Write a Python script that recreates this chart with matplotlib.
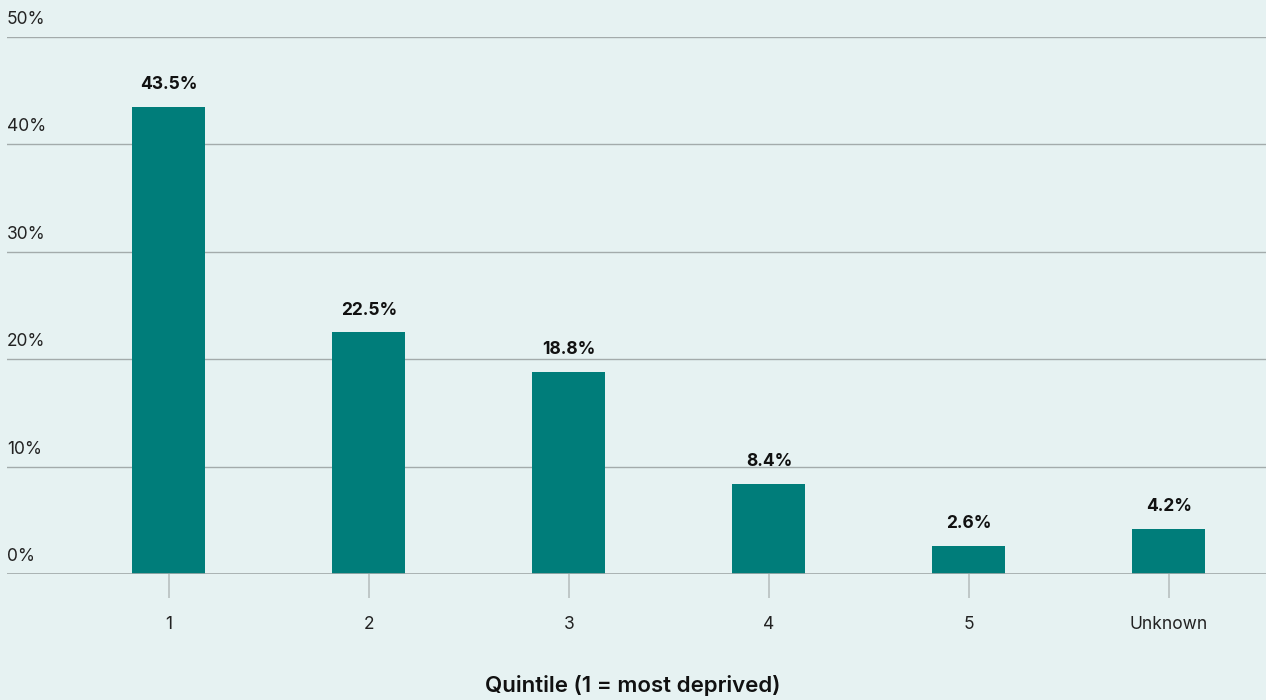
import matplotlib.pyplot as plt
from matplotlib.transforms import blended_transform_factory, offset_copy

categories = ["1", "2", "3", "4", "5", "Unknown"]
shares = [43.5, 22.5, 18.8, 8.4, 2.6, 4.2]
y_ticks = [0, 10, 20, 30, 40, 50]
y_tick_labels = ["0%", "10%", "20%", "30%", "40%", "50%"]
x_title = "Quintile (1 = most deprived)"

bg = "#e6f2f2"
bar_color = "#007d7a"
grid_color = "#a3abab"
text_color = "#222222"

plt.rcParams["font.family"] = ["Inter", "DejaVu Sans"]

fig = plt.figure(figsize=(12.66, 7.0), dpi=100, facecolor=bg)
ax = fig.add_axes([0.0055, 0.18, 0.9945, 0.767])
ax.set_facecolor(bg)

x = list(range(len(categories)))
ax.bar(x, shares, width=0.365, color=bar_color, zorder=3)

ax.set_xlim(-0.81, 5.485)
ax.set_ylim(0, 50)

# horizontal gridlines
ax.set_yticks(y_ticks)
ax.yaxis.grid(True, color=grid_color, linewidth=1.0, zorder=0)
ax.tick_params(axis="y", length=0, labelleft=False)
for s in ax.spines.values():
    s.set_visible(False)
ax.axhline(0, color=grid_color, linewidth=1.2, zorder=4)

# y labels sit just above their gridline at the left edge
trans = blended_transform_factory(ax.transAxes, ax.transData)
trans_up = offset_copy(trans, fig=fig, x=0, y=9, units="dots")
for v, lab in zip(y_ticks, y_tick_labels):
    ax.text(0.0, v, lab, transform=trans_up, ha="left", va="bottom",
            fontsize=12.5, color=text_color)

# x ticks
ax.set_xticks(x)
ax.set_xticklabels(categories, fontsize=12.5, color=text_color)
ax.tick_params(axis="x", length=17, width=1.2, color="#b8c0c0", pad=13)

# value labels
for xi, v in zip(x, shares):
    ax.annotate(f"{v:.1f}%", (xi, v), xytext=(0, 10), textcoords="offset points",
                ha="center", va="bottom", fontsize=12.5, fontweight="bold",
                color="#111111")

fig.text(0.5, 0.005, x_title, ha="center", va="bottom", fontsize=16,
         fontweight="semibold", color="#111111")

fig.savefig("out.png", dpi=100, facecolor=bg)
